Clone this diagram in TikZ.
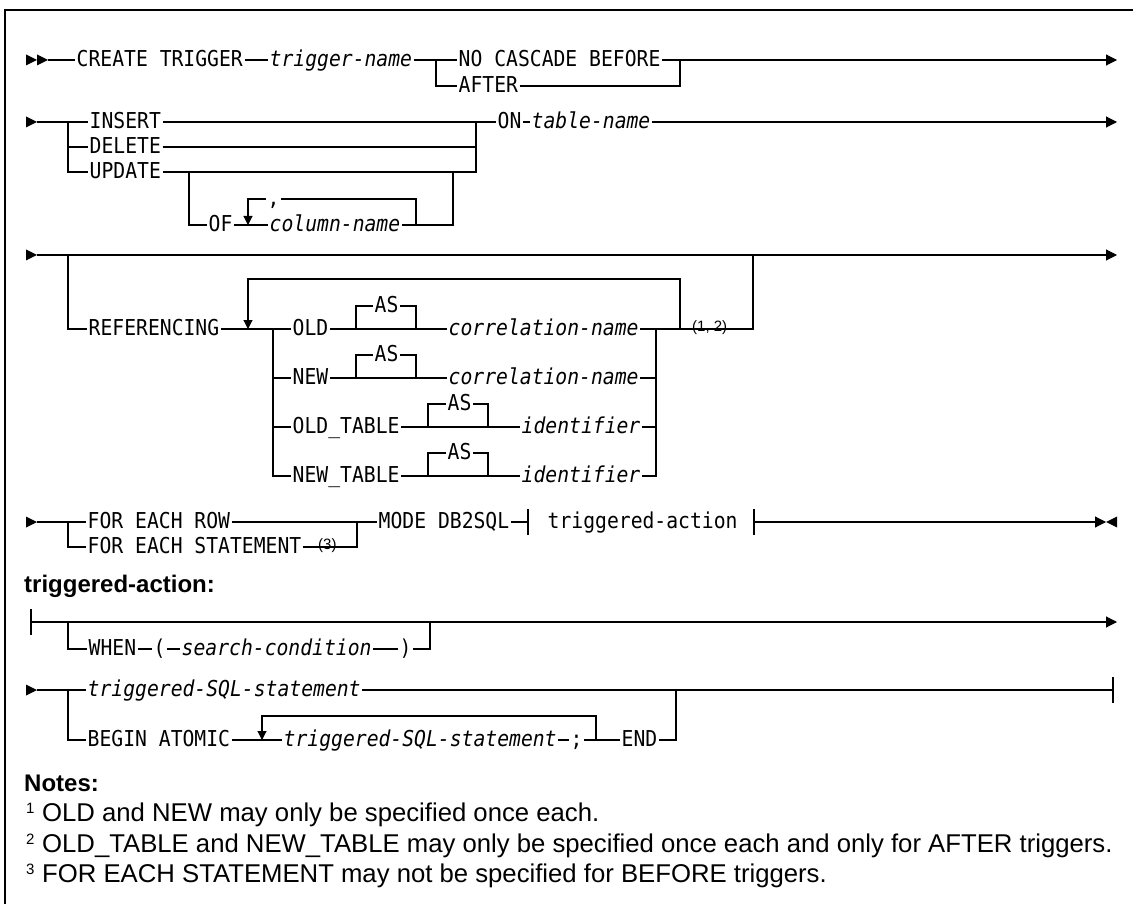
\documentclass[tikz,border=0pt]{standalone}
\usepackage{fontspec}
\setmainfont{Liberation Sans}
\newfontfamily\railfont[FakeStretch=0.9,ItalicFont={DejaVu Sans Mono Oblique}]{DejaVu Sans Mono}
\usetikzlibrary{arrows.meta,positioning,calc}
\tikzset{rail/.style={line width=1.1pt},
 kw/.style={font=\railfont\fontsize{21.9}{24}\selectfont,anchor=west,inner xsep=1.5pt,inner ysep=0pt,text height=13pt,text depth=0pt},
 var/.style={kw,font=\railfont\itshape\fontsize{21.9}{24}\selectfont},
 fn/.style={font=\fontsize{15}{17}\selectfont,anchor=base west,inner sep=0pt},
 head/.style={font=\bfseries\fontsize{24}{28}\selectfont,anchor=base west,inner sep=0pt},
 notetext/.style={font=\fontsize{25.7}{29}\selectfont,anchor=base west,inner sep=0pt},
 endarr/.style={rail,-{Triangle[length=11pt,width=11pt]}},
 looparr/.style={rail,-{Triangle[length=9pt,width=9pt]}},
 frame/.style={line width=1.3pt}}
\newcommand\railtri[1]{\fill ($#1+(-11,-5.5)$) -- #1 -- ($#1+(-11,5.5)$) -- cycle;}
\newcommand\railbar[1]{\draw[rail] ($#1+(0,-13)$) -- ($#1+(0,13)$);}
\begin{document}
\begin{tikzpicture}[x=1pt,y=-1pt]
\useasboundingbox (0,0) rectangle (1133,904);
\draw[frame] (5,904) -- (5,10) -- (1133,10);

% CREATE TRIGGER
\coordinate (r1m) at (37,60);
\coordinate (r1s) at (48,60);
\railtri{(r1m)} \railtri{(r1s)}
\node[kw] (create) at (75,60) {CREATE TRIGGER};
\node[var] (trigname) at (268,60) {trigger-name};
\coordinate (b1l) at (436,60);
\node[kw] (nocasc) at (457,60) {NO CASCADE BEFORE};
\node[kw] (after) at (457,86) {AFTER};
\coordinate (b1r) at (680,60);
\coordinate (r1e) at (1117,60);
\draw[rail] (r1s) -- (create) (create) -- (trigname) (trigname) -- (nocasc);
\draw[rail] (b1l) |- (after) (after) -| (b1r);
\draw[endarr] (nocasc) -- (r1e);

% event
\coordinate (r2s) at (37,122);
\railtri{(r2s)}
\coordinate (b2l) at (68,122);
\node[kw] (insert) at (88,122) {INSERT};
\node[kw] (delete) at (88,147) {DELETE};
\node[kw] (update) at (88,172) {UPDATE};
\coordinate (b2r) at (476,122);
\coordinate (b3l) at (189,172);
\coordinate (b3r) at (453,172);
\node[kw] (of) at (207,225) {OF};
\coordinate (lp1l) at (248,225);
\node[var] (colname) at (268,225) {column-name};
\coordinate (lp1r) at (416,225);
\node[kw] (comma) at (266,199) {,};
\node[kw] (on) at (496,122) {ON};
\node[var] (tabname) at (530,122) {table-name};
\coordinate (r2e) at (1117,122);
\draw[rail] (r2s) -- (insert) (insert) -- (on) (on) -- (tabname);
\draw[rail] (b2l) |- (delete) (delete) -| (b2r);
\draw[rail] (b2l) |- (update) (update) -| (b2r);
\draw[rail] (b3l) |- (of) (of) -- (colname) (colname) -| (b3r);
\draw[rail] (lp1r) |- (comma);
\draw[looparr] (comma) -| (lp1l);
\draw[endarr] (tabname) -- (r2e);

% REFERENCING
\coordinate (r3s) at (37,255);
\railtri{(r3s)}
\coordinate (b4l) at (68,255);
\coordinate (b4r) at (753,255);
\coordinate (r3e) at (1117,255);
\node[kw] (refer) at (87,329) {REFERENCING};
\coordinate (lp2l) at (248,329);
\coordinate (lp2r) at (680,329);
\coordinate (altl) at (273,329);
\coordinate (altr) at (656,329);
\node[kw] (old) at (291,329) {OLD};
\node[kw] (new) at (291,378) {NEW};
\node[kw] (oldt) at (291,427) {OLD\_TABLE};
\node[kw] (newt) at (291,476) {NEW\_TABLE};
\node[var] (corr1) at (447,329) {correlation-name};
\node[var] (corr2) at (447,378) {correlation-name};
\node[var] (ident1) at (520,427) {identifier};
\node[var] (ident2) at (520,476) {identifier};
\node[kw] (as1) at (373,306) {AS};
\node[kw] (as2) at (373,355) {AS};
\node[kw] (as3) at (446,404) {AS};
\node[kw] (as4) at (446,453) {AS};
\coordinate (as1l) at (356,329); \coordinate (as1r) at (416,329);
\coordinate (as2l) at (356,378); \coordinate (as2r) at (416,378);
\coordinate (as3l) at (428,427); \coordinate (as3r) at (488,427);
\coordinate (as4l) at (428,476); \coordinate (as4r) at (488,476);
\node[fn] (fn12) at (692,331) {(1, 2)};
\draw[endarr] (r3s) -- (r3e);
\draw[rail] (b4l) |- (refer) (refer) -- (old) (old) -- (corr1) (corr1) -| (b4r);
\draw[rail] (altl) |- (new) (new) -- (corr2) (corr2) -| (altr);
\draw[rail] (altl) |- (oldt) (oldt) -- (ident1) (ident1) -| (altr);
\draw[rail] (altl) |- (newt) (newt) -- (ident2) (ident2) -| (altr);
\draw[rail] (as1l) |- (as1) (as1) -| (as1r);
\draw[rail] (as2l) |- (as2) (as2) -| (as2r);
\draw[rail] (as3l) |- (as3) (as3) -| (as3r);
\draw[rail] (as4l) |- (as4) (as4) -| (as4r);
\draw[looparr] (lp2r) |- ($(lp2l)+(0,-50)$) -- (lp2l);

% FOR EACH
\coordinate (r4s) at (37,522);
\railtri{(r4s)}
\coordinate (b5l) at (68,522);
\node[kw] (fer) at (86,522) {FOR EACH ROW};
\node[kw] (fes) at (86,547) {FOR EACH STATEMENT};
\node[fn] (fn3) at (318,549) {(3)};
\coordinate (b5r) at (357,522);
\node[kw] (mode) at (377,522) {MODE DB2SQL};
\coordinate (bar1) at (528,522);
\node[kw] (tact) at (546,522) {triggered-action};
\coordinate (bar2) at (754,522);
\coordinate (r4e) at (1106,522);
\draw[rail] (r4s) -- (fer) (fer) -- (mode) (mode) -- (bar1);
\draw[rail] (b5l) |- (fes) (fes) -| (b5r);
\railbar{(bar1)} \railbar{(bar2)}
\draw[endarr] (bar2) -- (r4e);
\fill (r4e) -- ($(r4e)+(11,-5.5)$) -- ($(r4e)+(11,5.5)$) -- cycle;

% triggered-action
\node[head] (tahead) at (24,592) {triggered-action:};
\coordinate (r5s) at (31,622);
\railbar{(r5s)}
\coordinate (b6l) at (68,622);
\node[kw] (when) at (87,649) {WHEN};
\node[kw] (lpar) at (152,649) {(};
\node[var] (scond) at (180,649) {search-condition};
\node[kw] (rpar) at (398,649) {)};
\coordinate (b6r) at (430,622);
\coordinate (r5e) at (1117,622);
\draw[endarr] (r5s) -- (r5e);
\draw[rail] (b6l) |- (when) (when) -- (lpar) (lpar) -- (scond) (scond) -- (rpar) (rpar) -| (b6r);

\coordinate (r6s) at (37,690);
\railtri{(r6s)}
\coordinate (b7l) at (68,690);
\node[var] (sql1) at (86,690) {triggered-SQL-statement};
\coordinate (r6e) at (1113,690);
\node[kw] (begin) at (86,740) {BEGIN ATOMIC};
\coordinate (lp3l) at (262,740);
\node[var] (sql2) at (282,740) {triggered-SQL-statement};
\node[kw] (semi) at (569,740) {;};
\coordinate (lp3r) at (596,740);
\node[kw] (end) at (620,740) {END};
\coordinate (b7r) at (676,690);
\draw[rail] (r6s) -- (sql1) (sql1) -- (r6e);
\railbar{(r6e)}
\draw[rail] (b7l) |- (begin) (begin) -- (sql2) (sql2) -- (semi) (semi) -- (end) (end) -| (b7r);
\draw[looparr] (lp3r) |- ($(lp3l)+(0,-24)$) -- (lp3l);

% notes
\node[head] (notes) at (24,791) {Notes:};
\node[fn] (s1) at (26,813) {1};
\node[notetext] (t1) at (42,821) {OLD and NEW may only be specified once each.};
\node[fn] (s2) at (26,844) {2};
\node[notetext] (t2) at (42,852) {OLD\_TABLE and NEW\_TABLE may only be specified once each and only for AFTER triggers.};
\node[fn] (s3) at (26,874) {3};
\node[notetext] (t3) at (42,882) {FOR EACH STATEMENT may not be specified for BEFORE triggers.};
\end{tikzpicture}
\end{document}
